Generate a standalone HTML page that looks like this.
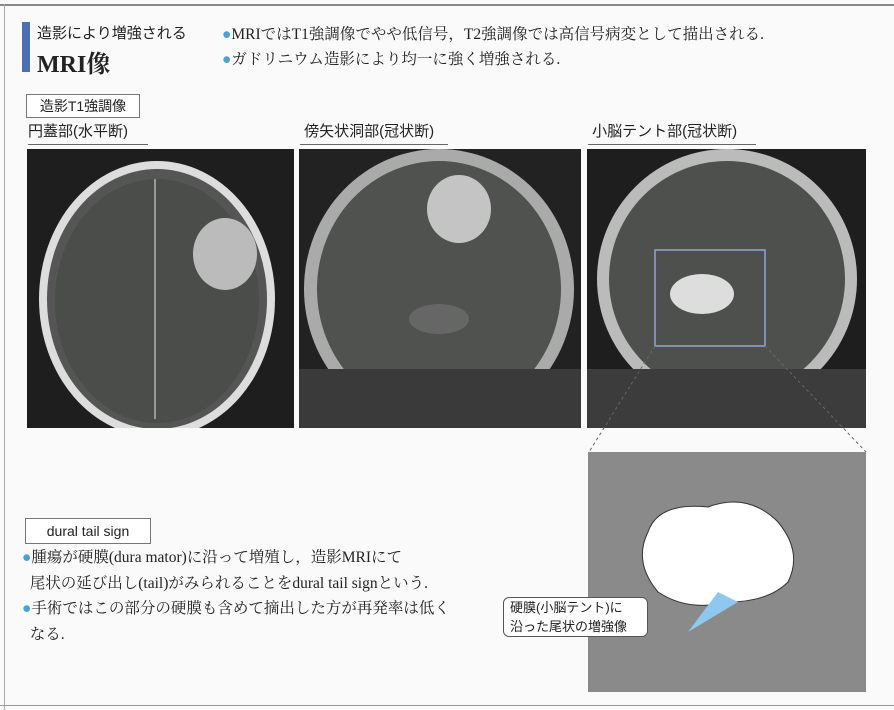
<!DOCTYPE html>
<html><head><meta charset="utf-8"><style>
body{margin:0;width:894px;height:710px;background:#fafafa;position:relative;overflow:hidden;font-family:"Liberation Serif","Noto Serif CJK SC","Noto Sans CJK JP",serif;color:#222}
.a{position:absolute;white-space:nowrap}
.s{font-family:"Liberation Sans","Noto Sans CJK JP",sans-serif}
.dot{color:#4aa3d8}
.img{position:absolute;background:#2a2a2a;overflow:hidden}
</style></head><body>
<div class="a" style="left:0;top:4px;width:894px;height:2px;background:#888"></div>
<div class="a" style="left:4px;top:4px;width:1px;height:706px;background:#aaa"></div>
<div class="a" style="left:22px;top:22px;width:8px;height:50px;background:#4a6fb5"></div>
<div class="a s" style="left:37px;top:22px;font-size:15px">造影により増強される</div>
<div class="a" style="left:37px;top:44px;font-size:24px;font-weight:bold">MRI像</div>
<div class="a" style="left:222px;top:22px;font-size:15.5px"><span class="dot">●</span>MRIではT1強調像でやや低信号，T2強調像では高信号病変として描出される.</div>
<div class="a" style="left:222px;top:47px;font-size:15.5px"><span class="dot">●</span>ガドリニウム造影により均一に強く増強される.</div>
<div class="a s" style="left:26px;top:94px;width:112px;height:22px;border:1px solid #777;background:#fff;font-size:14px;line-height:22px;text-align:center">造影T1強調像</div>
<div class="a s" style="left:28px;top:120px;width:120px;font-size:15px;border-bottom:1px solid #666;padding-bottom:3px">円蓋部(水平断)</div>
<div class="a s" style="left:300px;top:120px;width:148px;font-size:15px;border-bottom:1px solid #666;padding-bottom:3px">&nbsp;傍矢状洞部(冠状断)</div>
<div class="a s" style="left:588px;top:120px;width:168px;font-size:15px;border-bottom:1px solid #666;padding-bottom:3px">&nbsp;小脳テント部(冠状断)</div>

<div class="img" style="left:27px;top:149px;width:267px;height:279px;background:#1e1e1e">
<svg width="267" height="279"><ellipse cx="130" cy="150" rx="118" ry="138" fill="#ddd"/><ellipse cx="130" cy="150" rx="110" ry="130" fill="#555"/><ellipse cx="130" cy="152" rx="102" ry="122" fill="#4a4d4a"/><line x1="128" y1="30" x2="128" y2="270" stroke="#999" stroke-width="2"/><ellipse cx="198" cy="105" rx="32" ry="36" fill="#bbb"/></svg></div>
<div class="img" style="left:299px;top:149px;width:282px;height:279px;background:#222">
<svg width="282" height="279"><ellipse cx="140" cy="140" rx="135" ry="140" fill="#aaa"/><ellipse cx="140" cy="140" rx="122" ry="128" fill="#4f524f"/><rect x="0" y="220" width="282" height="60" fill="#3a3a3a"/><ellipse cx="160" cy="60" rx="32" ry="34" fill="#c4c4c4"/><ellipse cx="140" cy="170" rx="30" ry="15" fill="#666"/></svg></div>
<div class="img" style="left:587px;top:149px;width:279px;height:279px;background:#1e1e1e">
<svg width="279" height="279"><ellipse cx="140" cy="130" rx="130" ry="130" fill="#bbb"/><ellipse cx="140" cy="130" rx="118" ry="118" fill="#4e504e"/><rect x="0" y="220" width="279" height="60" fill="#3c3c3c"/><ellipse cx="115" cy="145" rx="32" ry="20" fill="#ddd"/><rect x="68" y="101" width="110" height="96" fill="none" stroke="#8aa6d6" stroke-width="1.5"/></svg></div>

<svg class="a" style="left:0;top:0" width="894" height="710"><line x1="655" y1="346" x2="589" y2="452" stroke="#666" stroke-dasharray="3,3"/><line x1="765" y1="346" x2="866" y2="452" stroke="#666" stroke-dasharray="3,3"/></svg>

<div class="img" style="left:588px;top:452px;width:278px;height:240px;background:#8a8a8a">
<svg width="278" height="240"><path d="M60 80 Q70 50 120 55 Q160 40 190 70 Q215 100 200 130 Q180 150 140 150 Q100 160 70 140 Q45 110 60 80Z" fill="#fff" stroke="#333"/><path d="M100 180 L130 140 L150 150 Z" fill="#8fc8ee"/></svg></div>

<div class="a s" style="left:25px;top:518px;width:124px;height:24px;border:1px solid #777;background:#fff;font-size:14px;line-height:24px;text-align:center">dural tail sign</div>
<div class="a" style="left:22px;top:545px;font-size:15.5px;line-height:25.5px"><span class="dot">●</span>腫瘍が硬膜(dura mator)に沿って増殖し，造影MRIにて<br>&nbsp;&nbsp;尾状の延び出し(tail)がみられることをdural tail signという.<br><span class="dot">●</span>手術ではこの部分の硬膜も含めて摘出した方が再発率は低く<br>&nbsp;&nbsp;なる.</div>
<div class="a s" style="left:503px;top:597px;width:145px;height:40px;border:1px solid #555;border-radius:6px;background:#fff;font-size:13px;line-height:19px;padding-left:6px;box-sizing:border-box">硬膜(小脳テント)に<br>沿った尾状の増強像</div>
<div class="a" style="left:0;top:705px;width:894px;height:1px;background:#999"></div>
</body></html>
